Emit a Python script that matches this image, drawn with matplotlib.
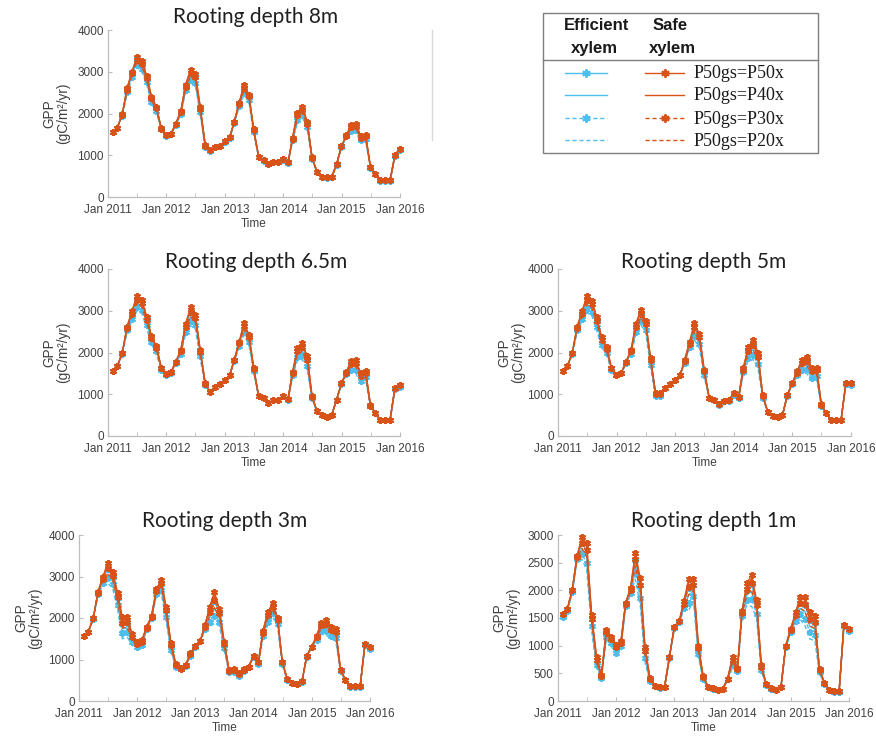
import numpy as np
import pandas as pd
import matplotlib
matplotlib.use("Agg")
import matplotlib.pyplot as plt
import matplotlib.dates as mdates
from matplotlib.patches import Rectangle

# ---------------- data (GPP, gC/m2/yr, monthly Jan 2011 - Dec 2015) ----------------
MONTHS = pd.date_range("2011-02-01", periods=60, freq="MS") - pd.Timedelta(days=1)

# Rooting depth 8m
D8_SAFE_P50 = [1560,1660,1980,2600,3000,3350,3250,2900,2400,2150,1650,1480,
               1520,1760,2050,2680,3050,2950,2150,1250,1120,1200,1220,1330,
               1430,1800,2250,2680,2450,1620,970,880,790,850,850,900,
               830,1420,2020,2150,1800,950,600,490,470,480,780,1220,
               1480,1720,1750,1450,1480,730,560,400,400,400,1000,1160]
D8_SAFE_P40 = [1560,1660,1980,2600,3000,3340,3250,2900,2400,2150,1650,1480,
               1520,1760,2050,2680,3040,2940,2150,1250,1120,1200,1220,1330,
               1430,1800,2250,2670,2450,1620,970,880,790,850,850,900,
               830,1420,2020,2150,1800,950,600,490,470,480,780,1220,
               1480,1720,1750,1450,1480,730,560,400,400,400,1000,1160]
D8_SAFE_P30 = [1560,1660,1970,2570,2960,3290,3190,2850,2360,2120,1640,1480,
               1520,1750,2030,2640,2970,2880,2110,1230,1120,1200,1220,1330,
               1430,1790,2230,2620,2410,1600,970,880,790,850,850,900,
               830,1400,1960,2090,1760,940,600,490,470,480,780,1220,
               1470,1670,1700,1420,1450,720,560,400,400,400,1000,1160]
D8_SAFE_P20 = [1560,1660,1960,2540,2920,3230,3130,2800,2320,2090,1630,1480,
               1520,1740,2010,2600,2890,2810,2070,1210,1120,1200,1220,1330,
               1430,1780,2210,2560,2370,1580,970,880,790,850,850,900,
               830,1380,1900,2030,1720,930,600,490,470,480,780,1220,
               1460,1620,1650,1390,1420,710,560,400,400,400,1000,1160]
D8_EFF_P50 = [1560,1660,1970,2580,2970,3300,3200,2860,2370,2130,1640,1480,
              1520,1750,2040,2650,2980,2890,2120,1240,1120,1200,1220,1330,
              1430,1790,2240,2630,2420,1600,970,880,790,850,850,900,
              830,1400,1970,2100,1770,940,600,490,470,480,780,1210,
              1470,1680,1710,1420,1450,720,560,400,400,400,990,1150]
D8_EFF_P40 = [1560,1660,1960,2540,2920,3230,3130,2800,2320,2090,1630,1470,
              1510,1740,2010,2600,2890,2810,2070,1210,1110,1190,1210,1320,
              1420,1780,2210,2560,2370,1580,960,870,780,840,840,890,
              820,1380,1900,2030,1720,930,590,480,460,470,770,1200,
              1460,1620,1650,1390,1420,710,550,390,390,390,990,1140]
D8_EFF_P30 = [1550,1650,1950,2510,2880,3170,3070,2750,2280,2060,1620,1460,
              1500,1730,1990,2560,2810,2740,2030,1190,1110,1190,1210,1320,
              1420,1770,2190,2500,2330,1560,960,870,780,840,840,890,
              820,1360,1840,1970,1680,920,590,480,460,470,770,1200,
              1450,1570,1600,1360,1390,700,550,390,390,390,980,1130]
D8_EFF_P20 = [1540,1650,1940,2480,2840,3110,3010,2700,2240,2030,1610,1450,
              1490,1720,1970,2520,2730,2670,1990,1170,1100,1180,1200,1310,
              1410,1760,2170,2440,2290,1540,950,860,770,830,830,880,
              810,1340,1780,1910,1640,910,580,470,450,460,760,1190,
              1440,1520,1550,1330,1360,690,540,380,380,380,980,1110]

# Rooting depth 6.5m
D65_SAFE_P50 = [1560,1670,1990,2620,2990,3350,3260,2860,2390,2150,1640,1480,
                1540,1780,2060,2680,3080,2900,2060,1270,1060,1180,1240,1340,
                1460,1820,2250,2700,2430,1640,950,900,780,860,860,960,
                880,1540,2100,2230,1910,960,590,500,460,500,870,1260,
                1540,1800,1820,1500,1560,740,550,390,390,390,1140,1220]
D65_SAFE_P40 = [1560,1670,1990,2610,2980,3330,3240,2850,2380,2140,1640,1480,
                1540,1780,2050,2670,3050,2880,2050,1260,1060,1180,1240,1340,
                1460,1820,2240,2680,2420,1630,950,900,780,860,860,960,
                880,1530,2080,2210,1890,950,590,500,460,500,870,1260,
                1530,1780,1800,1490,1550,740,550,390,390,390,1140,1220]
D65_SAFE_P30 = [1560,1670,1980,2590,2930,3260,3180,2790,2340,2110,1620,1480,
                1540,1770,2030,2620,2970,2820,2010,1250,1060,1180,1240,1340,
                1460,1810,2220,2630,2370,1610,950,900,780,860,860,960,
                880,1510,2030,2130,1830,940,590,500,460,500,870,1260,
                1520,1730,1740,1440,1510,730,550,390,390,390,1140,1220]
D65_SAFE_P20 = [1560,1670,1970,2560,2870,3170,3100,2720,2290,2070,1600,1480,
                1540,1760,2000,2560,2860,2740,1960,1230,1060,1180,1240,1340,
                1460,1800,2190,2560,2310,1580,950,900,780,860,860,960,
                880,1480,1960,2030,1750,920,590,500,460,500,870,1260,
                1500,1660,1660,1380,1460,720,550,390,390,390,1140,1220]
D65_EFF_P50 = [1560,1670,1980,2590,2940,3270,3190,2800,2350,2120,1620,1480,
               1540,1770,2030,2630,2980,2830,2020,1250,1060,1180,1240,1340,
               1460,1810,2220,2640,2380,1610,950,900,780,860,860,960,
               880,1510,2040,2140,1840,940,590,500,460,500,870,1250,
               1520,1740,1750,1450,1520,730,550,390,390,390,1140,1210]
D65_EFF_P40 = [1560,1670,1970,2560,2870,3170,3100,2720,2290,2070,1600,1470,
               1530,1760,2000,2560,2860,2740,1960,1230,1060,1180,1240,1340,
               1460,1800,2190,2560,2310,1580,950,900,780,860,860,950,
               870,1480,1960,2030,1750,920,590,500,460,500,870,1250,
               1500,1660,1660,1380,1460,720,550,390,390,390,1130,1200]
D65_EFF_P30 = [1550,1670,1960,2530,2810,3080,3020,2650,2240,2030,1580,1460,
               1520,1750,1970,2500,2750,2660,1910,1210,1060,1180,1240,1340,
               1460,1790,2160,2490,2250,1550,950,900,780,860,860,950,
               870,1450,1890,1930,1670,900,590,500,460,500,870,1250,
               1480,1590,1580,1320,1410,710,550,390,390,390,1130,1180]
D65_EFF_P20 = [1540,1670,1950,2500,2750,2990,2940,2580,2190,1990,1560,1450,
               1510,1740,1940,2440,2640,2580,1860,1190,1060,1180,1240,1340,
               1460,1780,2130,2420,2190,1520,950,900,780,860,860,940,
               860,1420,1820,1830,1590,880,590,500,460,500,870,1240,
               1460,1520,1500,1260,1360,700,550,390,390,390,1120,1160]

# Rooting depth 5m
D5_SAFE_P50 = [1560,1670,1990,2620,2990,3350,3240,2840,2360,2120,1640,1470,
               1520,1780,2060,2680,3020,2760,1860,1030,1030,1140,1240,1350,
               1460,1820,2250,2700,2440,1590,920,870,760,840,860,1020,
               940,1620,2120,2310,1990,980,580,480,460,500,980,1270,
               1550,1830,1900,1640,1640,760,540,380,380,380,1270,1260]
D5_SAFE_P40 = [1560,1670,1990,2610,2980,3330,3220,2820,2350,2110,1640,1470,
               1520,1780,2050,2670,3000,2740,1850,1030,1030,1140,1240,1350,
               1460,1810,2240,2680,2420,1580,920,870,760,840,860,1020,
               940,1610,2100,2290,1970,970,580,480,460,500,980,1270,
               1540,1810,1880,1620,1620,760,540,380,380,380,1270,1260]
D5_SAFE_P30 = [1560,1670,1980,2590,2930,3250,3150,2760,2300,2080,1620,1470,
               1520,1770,2030,2620,2930,2690,1810,1010,1010,1140,1240,1350,
               1460,1800,2210,2600,2360,1550,920,870,760,840,860,1020,
               940,1590,2040,2190,1900,960,580,480,460,500,980,1270,
               1520,1750,1800,1560,1570,750,540,380,380,380,1270,1260]
D5_SAFE_P20 = [1560,1670,1970,2560,2870,3150,3060,2680,2240,2040,1600,1470,
               1520,1760,2000,2560,2840,2620,1760,990,990,1140,1240,1350,
               1460,1780,2170,2500,2280,1510,920,870,760,840,860,1020,
               940,1560,1960,2070,1810,940,580,480,460,500,980,1270,
               1490,1670,1700,1480,1500,740,540,380,380,380,1270,1260]
D5_EFF_P50 = [1560,1670,1980,2590,2940,3260,3160,2770,2310,2090,1620,1470,
              1520,1770,2030,2630,2940,2700,1820,1010,1010,1140,1240,1350,
              1460,1800,2210,2610,2370,1550,920,870,760,840,860,1010,
              930,1590,2050,2200,1910,960,580,480,460,500,980,1260,
              1520,1760,1810,1570,1570,750,540,380,380,380,1260,1250]
D5_EFF_P40 = [1560,1670,1970,2560,2870,3150,3060,2680,2240,2040,1600,1460,
              1510,1760,2000,2560,2840,2620,1760,990,990,1140,1240,1350,
              1460,1780,2170,2500,2280,1510,910,860,750,830,850,1000,
              920,1560,1960,2070,1810,940,580,480,460,500,970,1260,
              1490,1670,1700,1480,1500,740,540,380,380,380,1250,1240]
D5_EFF_P30 = [1550,1670,1960,2530,2810,3050,2970,2600,2180,2000,1580,1450,
              1500,1750,1970,2500,2750,2550,1710,970,970,1140,1240,1350,
              1460,1760,2130,2400,2200,1470,910,860,750,830,850,980,
              910,1530,1880,1950,1720,920,580,480,460,500,970,1250,
              1460,1590,1600,1400,1430,730,540,380,380,380,1240,1220]
D5_EFF_P20 = [1540,1670,1950,2500,2750,2950,2880,2520,2120,1960,1560,1440,
              1490,1740,1940,2440,2660,2480,1660,950,950,1130,1230,1340,
              1450,1740,2090,2300,2120,1430,900,850,740,820,840,960,
              880,1500,1800,1830,1630,900,580,480,460,500,960,1250,
              1430,1510,1500,1320,1360,720,540,380,380,380,1220,1200]

# Rooting depth 3m
D3_SAFE_P50 = [1570,1670,1990,2630,3000,3320,3120,2610,2020,2020,1620,1420,
               1470,1790,2050,2690,2920,2270,1390,890,790,870,1150,1330,
               1450,1820,2270,2630,2210,1430,750,760,670,760,830,1080,
               950,1690,2150,2350,2010,950,520,440,410,470,1090,1310,
               1570,1890,1950,1780,1730,750,510,350,350,350,1370,1290]
D3_SAFE_P40 = [1570,1670,1990,2620,2980,3280,3090,2580,1980,1980,1600,1410,
               1460,1780,2040,2680,2900,2250,1380,880,790,870,1140,1330,
               1450,1810,2240,2580,2180,1420,740,750,660,760,830,1080,
               940,1680,2130,2330,1990,940,520,440,410,470,1090,1310,
               1560,1870,1930,1760,1710,750,510,350,350,350,1370,1290]
D3_SAFE_P30 = [1570,1670,1990,2610,2950,3200,3020,2510,1890,1900,1550,1380,
               1430,1770,2030,2650,2840,2190,1340,870,780,860,1130,1320,
               1450,1790,2150,2440,2110,1380,730,740,650,750,830,1080,
               930,1650,2070,2270,1960,930,520,440,410,470,1090,1310,
               1540,1820,1860,1710,1660,740,510,350,350,350,1370,1290]
D3_SAFE_P20 = [1570,1670,1990,2590,2900,3080,2920,2410,1760,1780,1480,1340,
               1390,1750,2010,2610,2760,2110,1290,850,770,850,1110,1310,
               1450,1760,2030,2250,2010,1330,710,720,630,740,830,1080,
               910,1610,1990,2190,1910,910,520,440,410,470,1090,1310,
               1510,1750,1770,1640,1590,730,510,350,350,350,1370,1290]
D3_EFF_P50 = [1560,1660,1980,2600,2940,3180,3000,2490,1870,1880,1540,1370,
              1420,1760,2020,2640,2830,2180,1330,860,770,850,1120,1310,
              1440,1780,2140,2420,2100,1370,720,730,640,740,820,1060,
              920,1640,2060,2260,1950,920,510,430,400,460,1080,1300,
              1530,1810,1850,1700,1650,730,500,340,340,340,1350,1270]
D3_EFF_P40 = [1560,1660,1980,2580,2890,3060,2900,2390,1740,1760,1470,1330,
              1380,1740,2000,2600,2750,2100,1280,840,760,840,1100,1300,
              1440,1750,2020,2230,2000,1320,700,710,620,730,820,1060,
              900,1600,1980,2180,1900,900,510,430,400,460,1070,1300,
              1500,1740,1760,1630,1580,720,500,340,340,340,1340,1260]
D3_EFF_P30 = [1560,1660,1980,2570,2850,2960,2820,2310,1630,1660,1410,1300,
              1350,1730,1990,2570,2680,2030,1240,830,760,840,1090,1300,
              1450,1730,1910,2060,1910,1280,690,700,610,730,830,1070,
              890,1570,1910,2110,1860,890,510,430,400,460,1070,1300,
              1480,1680,1680,1570,1520,720,500,340,340,340,1340,1250]
D3_EFF_P20 = [1550,1650,1970,2550,2800,2840,2720,2210,1500,1540,1340,1260,
              1310,1710,1970,2530,2600,1950,1190,810,750,830,1070,1290,
              1430,1700,1790,1870,1810,1230,670,680,590,720,800,1020,
              870,1530,1830,2030,1810,870,500,420,400,460,1050,1290,
              1450,1610,1590,1500,1450,710,500,340,340,340,1320,1230]

# Rooting depth 1m
D1_SAFE_P50 = [1565,1660,2000,2620,2960,2850,1560,800,470,1280,1160,1020,
               1080,1780,2040,2680,2220,980,420,280,250,260,800,1340,
               1450,1800,2200,2200,1000,450,260,230,200,220,400,800,
               600,1620,2130,2270,1820,650,300,230,200,260,1000,1310,
               1600,1880,1880,1600,1530,580,330,200,180,180,1380,1300]
D1_SAFE_P40 = [1565,1660,2000,2610,2920,2800,1530,780,460,1260,1140,1000,
               1070,1770,2030,2630,2170,950,410,280,250,260,800,1340,
               1450,1780,2140,2160,980,440,260,230,200,220,400,780,
               590,1610,2090,2210,1790,640,300,230,200,260,1000,1300,
               1580,1840,1830,1550,1480,570,330,200,180,180,1380,1300]
D1_SAFE_P30 = [1565,1660,2000,2600,2860,2730,1490,750,450,1240,1120,970,
               1050,1760,2010,2560,2100,910,400,280,250,260,800,1340,
               1440,1760,2060,2100,950,430,260,230,200,220,400,750,
               580,1590,2030,2130,1740,620,300,230,200,260,1000,1290,
               1550,1780,1750,1480,1420,560,330,200,180,180,1380,1300]
D1_SAFE_P20 = [1565,1660,2000,2580,2760,2610,1420,700,430,1200,1080,920,
               1020,1740,1980,2440,1980,840,380,280,250,260,800,1340,
               1430,1720,1920,2000,900,410,260,230,200,220,400,700,
               560,1560,1930,1990,1660,590,300,230,200,260,1000,1270,
               1500,1680,1620,1360,1310,540,330,200,180,180,1380,1300]
D1_EFF_P50 = [1550,1650,1990,2590,2850,2720,1480,740,440,1230,1110,960,
              1040,1750,2000,2550,2090,900,390,270,240,250,790,1330,
              1430,1750,2050,2090,940,420,250,220,190,210,390,740,
              570,1580,2020,2120,1730,610,290,220,190,250,990,1280,
              1540,1770,1740,1470,1410,550,320,190,170,170,1370,1290]
D1_EFF_P40 = [1540,1640,1980,2570,2750,2600,1410,690,420,1190,1070,910,
              1010,1730,1970,2430,1970,830,370,270,240,250,790,1330,
              1420,1710,1910,1990,890,400,250,220,190,210,390,690,
              550,1550,1920,1980,1650,580,290,220,190,250,990,1260,
              1490,1670,1610,1350,1300,530,320,190,170,170,1360,1280]
D1_EFF_P30 = [1520,1620,1970,2560,2660,2490,1350,650,410,1160,1040,870,
              990,1720,1950,2320,1860,770,360,270,240,250,780,1320,
              1420,1680,1780,1900,850,390,250,220,190,210,390,650,
              540,1530,1830,1850,1580,560,290,220,190,250,980,1250,
              1450,1580,1490,1240,1200,520,310,190,170,170,1350,1270]
D1_EFF_P20 = [1500,1600,1960,2540,2560,2370,1280,600,390,1120,1000,820,
              960,1700,1920,2200,1740,700,340,260,230,240,760,1300,
              1410,1640,1640,1800,800,370,240,210,180,200,380,600,
              520,1500,1730,1710,1500,530,280,210,180,240,950,1230,
              1400,1480,1360,1120,1090,500,300,180,160,160,1330,1250]

TITLES = ["Rooting depth 8m", "Rooting depth 6.5m", "Rooting depth 5m",
          "Rooting depth 3m", "Rooting depth 1m"]
SERIES_LABELS = ["P50gs=P50x", "P50gs=P40x", "P50gs=P30x", "P50gs=P20x"]
Y_TICKS_4000 = [0, 1000, 2000, 3000, 4000]
Y_TICKS_3000 = [0, 500, 1000, 1500, 2000, 2500, 3000]

PANEL_DATA = [
    ([D8_EFF_P50, D8_EFF_P40, D8_EFF_P30, D8_EFF_P20],
     [D8_SAFE_P50, D8_SAFE_P40, D8_SAFE_P30, D8_SAFE_P20]),
    ([D65_EFF_P50, D65_EFF_P40, D65_EFF_P30, D65_EFF_P20],
     [D65_SAFE_P50, D65_SAFE_P40, D65_SAFE_P30, D65_SAFE_P20]),
    ([D5_EFF_P50, D5_EFF_P40, D5_EFF_P30, D5_EFF_P20],
     [D5_SAFE_P50, D5_SAFE_P40, D5_SAFE_P30, D5_SAFE_P20]),
    ([D3_EFF_P50, D3_EFF_P40, D3_EFF_P30, D3_EFF_P20],
     [D3_SAFE_P50, D3_SAFE_P40, D3_SAFE_P30, D3_SAFE_P20]),
    ([D1_EFF_P50, D1_EFF_P40, D1_EFF_P30, D1_EFF_P20],
     [D1_SAFE_P50, D1_SAFE_P40, D1_SAFE_P30, D1_SAFE_P20]),
]

# ---------------- style ----------------
BLUE = "#4DBEEE"
ORANGE = "#D95319"
ASTER = (6, 2, 0)
STYLES = [dict(ls="-", marker=ASTER), dict(ls="-", marker=None),
          dict(ls=(0, (3, 2)), marker=ASTER), dict(ls=(0, (3, 2)), marker=None)]
AX_COL = "#BDBDBD"
TXT_COL = "#404040"
SANS = ["Liberation Sans", "DejaVu Sans"]

W, H = 876, 738
fig = plt.figure(figsize=(W / 100, H / 100), dpi=100)
fig.patch.set_facecolor("white")

# axes rectangles in pixels: (left, top, right, bottom)
RECTS = [(108, 30, 400, 197), (108, 269, 400, 436), (558, 269, 851, 436),
         (79, 535, 370, 701), (558, 535, 849, 701)]
YMAX = [4000, 4000, 4000, 4000, 3000]
YLAB_X = [-0.128, -0.128, -0.113, -0.127, -0.13]
TITLE_POS = [(256, 23), (256, 268), (704, 268), (225, 527), (714, 527)]
TIME_Y = [224, 463, 463, 728, 728]

xmin = np.datetime64("2011-01-01")
xmax = np.datetime64("2016-01-01")
x = MONTHS.to_numpy()

overlay = fig.add_axes([0, 0, 1, 1], zorder=5)
overlay.set_xlim(0, W)
overlay.set_ylim(H, 0)
overlay.axis("off")
overlay.patch.set_alpha(0)

for k, (rect, (eff, safe)) in enumerate(zip(RECTS, PANEL_DATA)):
    l, t, r, b = rect
    ax = fig.add_axes([l / W, 1 - b / H, (r - l) / W, (b - t) / H])
    for group, col in ((eff, BLUE), (safe, ORANGE)):
        for j in [3, 2, 1, 0]:
            st = STYLES[j]
            ax.plot(x, group[j], color=col, lw=1.0, ls=st["ls"],
                    marker=st["marker"], ms=5, mew=1.4, clip_on=False)
    ax.set_xlim(xmin, xmax)
    ax.set_ylim(0, YMAX[k])
    ax.set_yticks(Y_TICKS_4000 if YMAX[k] == 4000 else Y_TICKS_3000)
    ax.xaxis.set_major_locator(mdates.YearLocator())
    ax.xaxis.set_minor_locator(mdates.MonthLocator(bymonth=7))
    ax.xaxis.set_major_formatter(mdates.DateFormatter("%b %Y"))
    for s in ("top", "right"):
        ax.spines[s].set_visible(False)
    for s in ("left", "bottom"):
        ax.spines[s].set_color(AX_COL)
        ax.spines[s].set_linewidth(0.9)
    ax.tick_params(which="both", direction="in", length=3, color=AX_COL,
                   labelsize=8.5, labelcolor=TXT_COL)
    ax.tick_params(axis="x", pad=5)
    ax.tick_params(axis="y", pad=3)
    for lab in ax.get_xticklabels() + ax.get_yticklabels():
        lab.set_fontfamily(SANS)
    ax.set_ylabel("GPP\n(gC/m²/yr)", fontsize=9.8, color=TXT_COL,
                  family=SANS, linespacing=1.0)
    ax.yaxis.set_label_coords(YLAB_X[k], 0.5)
    ax.patch.set_alpha(0)
    tx, ty = TITLE_POS[k]
    overlay.text(tx, ty, TITLES[k], ha="center", va="baseline", fontsize=15,
                 family=["Lato", "DejaVu Sans"], color="#202020")
    overlay.text((l + r) / 2, TIME_Y[k], "Time", ha="center", va="center",
                 fontsize=8.5, family=SANS, color=TXT_COL)

# stray vertical line near first panel
overlay.plot([432, 432], [30, 140], color="#D9D9D9", lw=1.0)

# ---------------- legend ----------------
LX0, LY0, LX1, LY1 = 543, 13, 818, 153
overlay.add_patch(Rectangle((LX0, LY0), LX1 - LX0, LY1 - LY0, fill=False,
                            edgecolor="#7F7F7F", lw=1.0))
overlay.plot([LX0, LX1], [60, 60], color="#7F7F7F", lw=1.0)
overlay.text(597, 25, "Efficient", ha="center", va="center", fontsize=12,
             fontweight="bold", family=SANS, color="#1a1a1a")
overlay.text(594, 48, "xylem", ha="center", va="center", fontsize=12,
             fontweight="bold", family=SANS, color="#1a1a1a")
overlay.text(670, 25, "Safe", ha="center", va="center", fontsize=12,
             fontweight="bold", family=SANS, color="#1a1a1a")
overlay.text(672, 48, "xylem", ha="center", va="center", fontsize=12,
             fontweight="bold", family=SANS, color="#1a1a1a")
ROW_Y = [73, 95, 118, 140]
for j, yy in enumerate(ROW_Y):
    st = STYLES[j]
    overlay.plot([565, 607], [yy, yy], color=BLUE, lw=1.0, ls=st["ls"])
    overlay.plot([645, 684], [yy, yy], color=ORANGE, lw=1.0, ls=st["ls"])
    if st["marker"]:
        overlay.plot([586], [yy], color=BLUE, marker=ASTER, ms=6, mew=1.4)
        overlay.plot([665], [yy], color=ORANGE, marker=ASTER, ms=6, mew=1.4)
    overlay.text(694, yy + 1, SERIES_LABELS[j], ha="left", va="center",
                 fontsize=13, family=["Liberation Serif", "DejaVu Serif"],
                 color="#1a1a1a")

fig.savefig("out.png", dpi=100, facecolor="white")
